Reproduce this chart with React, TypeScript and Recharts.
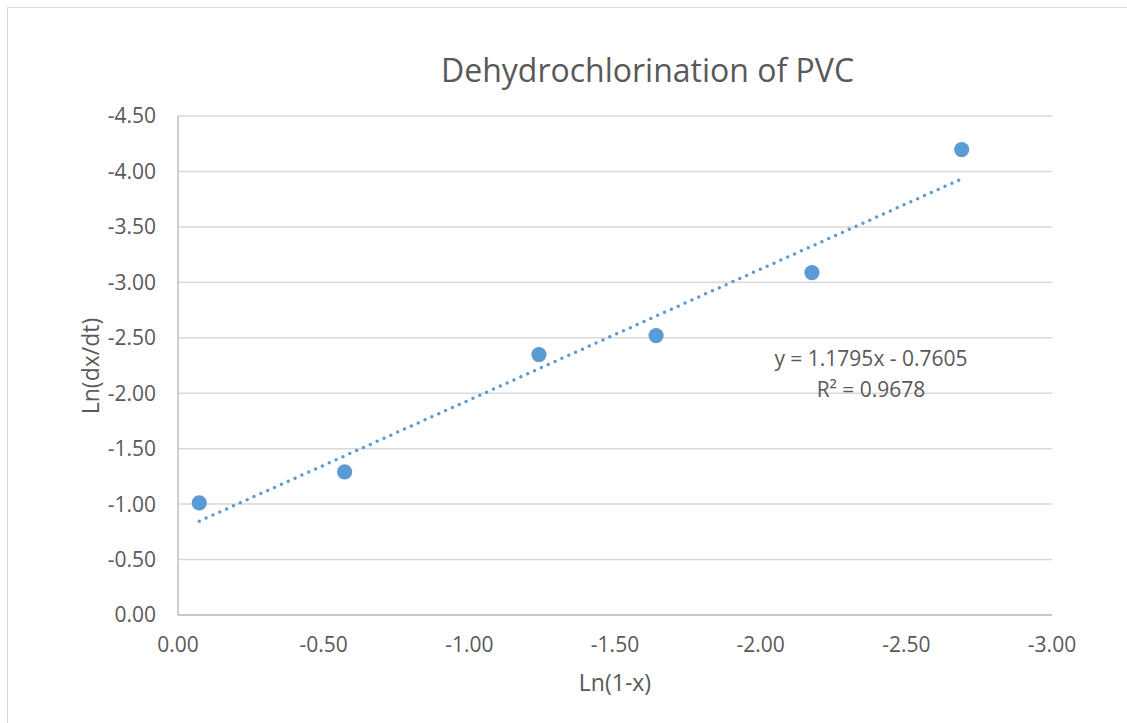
import { ScatterChart, Scatter, XAxis, YAxis, CartesianGrid } from 'recharts';

// Ln(1-x) and Ln(dx/dt)
const lnOneMinusX = [-0.073, -0.572, -1.239, -1.641, -2.176, -2.69];
const lnRate = [-1.011, -1.291, -2.349, -2.52, -3.088, -4.197];

// linear trendline end points (y = 1.1795x - 0.7605)
const trendX = [-0.073, -2.69];
const trendY = [-0.846, -3.933];

const xTicks = [0, -0.5, -1, -1.5, -2, -2.5, -3];
const yTicks = [0, -0.5, -1, -1.5, -2, -2.5, -3, -3.5, -4, -4.5];

const points = lnOneMinusX.map((x, i) => ({ x, y: lnRate[i] }));
const trend = trendX.map((x, i) => ({ x, y: trendY[i] }));

const FONT = '"Open Sans", sans-serif';
const GREY = '#595959';
const BLUE = '#5b9bd5';

const fmt = (v: number) => v.toFixed(2);

export default function App() {
  return (
    <div style={{ position: 'absolute', left: 0, top: 0, width: 1127, height: 723, background: '#fff', fontFamily: FONT, overflow: 'hidden' }}>
      <div style={{ position: 'absolute', left: 7, top: 7, width: 1130, height: 730, border: '1px solid #d9d9d9', boxSizing: 'border-box' }} />
      <ScatterChart width={1127} height={723} margin={{ top: 116, right: 75, bottom: 68, left: 0 }}>
        <CartesianGrid vertical={false} stroke='#d9d9d9' strokeWidth={1.5} />
        <XAxis
          type='number'
          dataKey='x'
          domain={[-3, 0]}
          ticks={xTicks}
          reversed
          height={40}
          tickFormatter={fmt}
          tickLine={false}
          tickSize={0}
          tickMargin={22}
          axisLine={{ stroke: '#bfbfbf', strokeWidth: 1.5 }}
          tick={{ fill: GREY, fontSize: 21, fontFamily: FONT }}
          interval={0}
        />
        <YAxis
          type='number'
          dataKey='y'
          domain={[-4.5, 0]}
          ticks={yTicks}
          reversed
          width={178}
          tickFormatter={fmt}
          tickLine={false}
          tickSize={0}
          tickMargin={22}
          axisLine={{ stroke: '#bfbfbf', strokeWidth: 1.5 }}
          tick={{ fill: GREY, fontSize: 21, fontFamily: FONT }}
          interval={0}
        />
        <Scatter
          data={trend}
          line={{ stroke: BLUE, strokeWidth: 3.5, strokeDasharray: '0 7.5', strokeLinecap: 'round' }}
          shape={() => <g />}
          isAnimationActive={false}
        />
        <Scatter
          data={points}
          fill={BLUE}
          shape={(p: any) => <circle cx={p.cx} cy={p.cy} r={7.6} fill={BLUE} />}
          isAnimationActive={false}
        />
      </ScatterChart>
      <div style={{ position: 'absolute', left: 0, width: 1127, top: 48, paddingLeft: 168, boxSizing: 'border-box', textAlign: 'center', fontSize: 32, color: GREY, lineHeight: '44px' }}>
        Dehydrochlorination of PVC
      </div>
      <div style={{ position: 'absolute', left: 178, width: 874, top: 666, textAlign: 'center', fontSize: 23, color: GREY, lineHeight: '32px' }}>
        Ln(1-x)
      </div>
      <div style={{ position: 'absolute', left: 90, top: 366, width: 300, marginLeft: -150, marginTop: -16, textAlign: 'center', fontSize: 23, color: GREY, lineHeight: '32px', transform: 'rotate(-90deg)' }}>
        Ln(dx/dt)
      </div>
      <div style={{ position: 'absolute', left: 721, width: 300, top: 343, textAlign: 'center', fontSize: 21, color: GREY, lineHeight: '31px' }}>
        y = 1.1795x - 0.7605
        <br />
        R² = 0.9678
      </div>
    </div>
  );
}
